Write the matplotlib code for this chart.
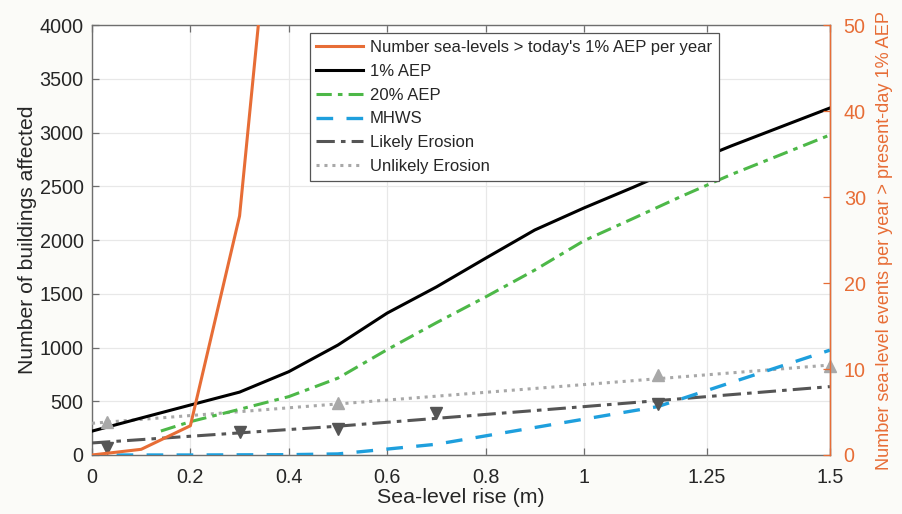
import matplotlib
matplotlib.use("Agg")
import matplotlib.pyplot as plt
from matplotlib.lines import Line2D

plt.rcParams['font.family'] = ['Liberation Sans', 'DejaVu Sans']

# ---- data ----
x_ticks = [0, 0.2, 0.4, 0.6, 0.8, 1.0, 1.25, 1.5]
x_ticklabels = ['0', '0.2', '0.4', '0.6', '0.8', '1', '1.25', '1.5']

# events per year (right axis)
slr_events = [0, 0.1, 0.2, 0.3, 0.4]
events = [0, 0.66, 3.4, 27.8, 86]

slr_aep1 = [0, 0.1, 0.2, 0.3, 0.4, 0.5, 0.6, 0.7, 0.8, 0.9, 1.0, 1.1, 1.2, 1.3, 1.4, 1.5]
aep1 = [222, 344, 465, 585, 775, 1023, 1320, 1563, 1830, 2093, 2298, 2490, 2690, 2876, 3052, 3228]

slr_aep20 = [0.14, 0.2, 0.3, 0.4, 0.5, 0.6, 0.7, 0.8, 0.9, 1.0, 1.1, 1.2, 1.3, 1.4, 1.5]
aep20 = [223, 310, 425, 543, 715, 980, 1230, 1470, 1720, 1993, 2200, 2410, 2610, 2793, 2977]

slr_mhws = [0.05, 0.2, 0.4, 0.5, 0.7, 1.15, 1.5]
mhws = [0, 0, 3, 10, 100, 450, 975]

slr_likely_line = [0, 0.5, 1.0, 1.5]
likely_line = [112, 268, 450, 636]
slr_likely_pts = [0.03, 0.3, 0.5, 0.7, 1.15]
likely_pts = [68, 217, 239, 388, 474]

slr_unlikely_line = [0, 0.5, 1.0, 1.5]
unlikely_line = [295, 475, 655, 837]
slr_unlikely_pts = [0.03, 0.5, 1.15, 1.5]
unlikely_pts = [310, 481, 744, 831]

# ---- style ----
c_orange = '#E76D36'
c_green = '#4DB848'
c_blue = '#1E9FDD'
c_dark = '#555555'
c_light = '#A8A8A8'
c_axis = '#6E6E6E'
c_text = '#262626'

fig = plt.figure(figsize=(9.02, 5.14), dpi=100, facecolor='#FBFBF8')
ax = fig.add_axes([0.102, 0.1148, 0.818, 0.8365])
ax.set_facecolor('white')

ax.grid(True, color='#E8E8E8', linewidth=0.9)
ax.set_axisbelow(True)

ax.plot(slr_aep1, aep1, color='black', lw=2.2, solid_joinstyle='round', zorder=4)
ax.plot(slr_aep20, aep20, color=c_green, lw=2.2, dashes=(5, 2, 1.5, 2), zorder=4)
ax.plot(slr_mhws, mhws, color=c_blue, lw=2.4, dashes=(5, 4), zorder=4)
ax.plot(slr_likely_line, likely_line, color=c_dark, lw=2.2, dashes=(6, 2, 1.5, 2), zorder=3)
ax.plot(slr_unlikely_line, unlikely_line, color=c_light, lw=2.2, ls=(0, (1, 1.6)), zorder=3)
ax.plot(slr_likely_pts, likely_pts, ls='none', marker='v', ms=8, color=c_dark, zorder=5)
ax.plot(slr_unlikely_pts, unlikely_pts, ls='none', marker='^', ms=8, color=c_light, zorder=5, clip_on=False)

ax.set_xlim(0, 1.5)
ax.set_ylim(0, 4000)
ax.set_xticks(x_ticks)
ax.set_xticklabels(x_ticklabels)
ax.set_yticks(range(0, 4001, 500))
ax.tick_params(axis='both', direction='in', length=5, color=c_axis, labelsize=14.2,
               labelcolor=c_text, top=True, right=True, width=0.9)
ax.tick_params(axis='x', pad=9.5)
ax.tick_params(axis='y', pad=6)
for s in ['left', 'top', 'bottom', 'right']:
    ax.spines[s].set_color(c_axis)
    ax.spines[s].set_linewidth(1.0)

ax.set_xlabel('Sea-level rise (m)', fontsize=15.4, color=c_text, labelpad=0.5)
ax.set_ylabel('Number of buildings affected', fontsize=15.2, color=c_text, labelpad=2)

ax2 = ax.twinx()
ax2.plot(slr_events, events, color=c_orange, lw=2.2, zorder=6)
ax2.set_ylim(0, 50)
ax2.set_yticks(range(0, 51, 10))
ax2.tick_params(axis='y', direction='in', length=5, color=c_orange, labelcolor=c_orange,
                labelsize=14.2, width=0.9, pad=10)
ax2.spines['right'].set_color(c_orange)
ax2.spines['right'].set_linewidth(1.0)
for s in ['left', 'top', 'bottom']:
    ax2.spines[s].set_visible(False)
ax2.set_ylabel('Number sea-level events per year > present-day 1% AEP',
               fontsize=13.1, color=c_orange, labelpad=7)

handles = [
    Line2D([], [], color=c_orange, lw=2.2),
    Line2D([], [], color='black', lw=2.2),
    Line2D([], [], color=c_green, lw=2.2, dashes=(5, 2, 1.5, 2)),
    Line2D([], [], color=c_blue, lw=2.4, dashes=(5, 4)),
    Line2D([], [], color=c_dark, lw=2.2, dashes=(6, 2, 1.5, 2)),
    Line2D([], [], color=c_light, lw=2.2, ls=(0, (1, 1.6))),
]
labels = ["Number sea-levels > today's 1% AEP per year", '1% AEP', '20% AEP', 'MHWS',
          'Likely Erosion', 'Unlikely Erosion']
leg = ax2.legend(handles, labels, loc='upper left', bbox_to_anchor=(0.295, 0.981),
                 borderaxespad=0, fontsize=12, frameon=True, fancybox=False,
                 edgecolor='#555555', framealpha=1, handlelength=2.8,
                 handletextpad=0.42, labelspacing=0.53, borderpad=0.4)
leg.get_frame().set_linewidth(0.9)
for t in leg.get_texts():
    t.set_color(c_text)

fig.savefig('out.png', dpi=100, facecolor=fig.get_facecolor())
